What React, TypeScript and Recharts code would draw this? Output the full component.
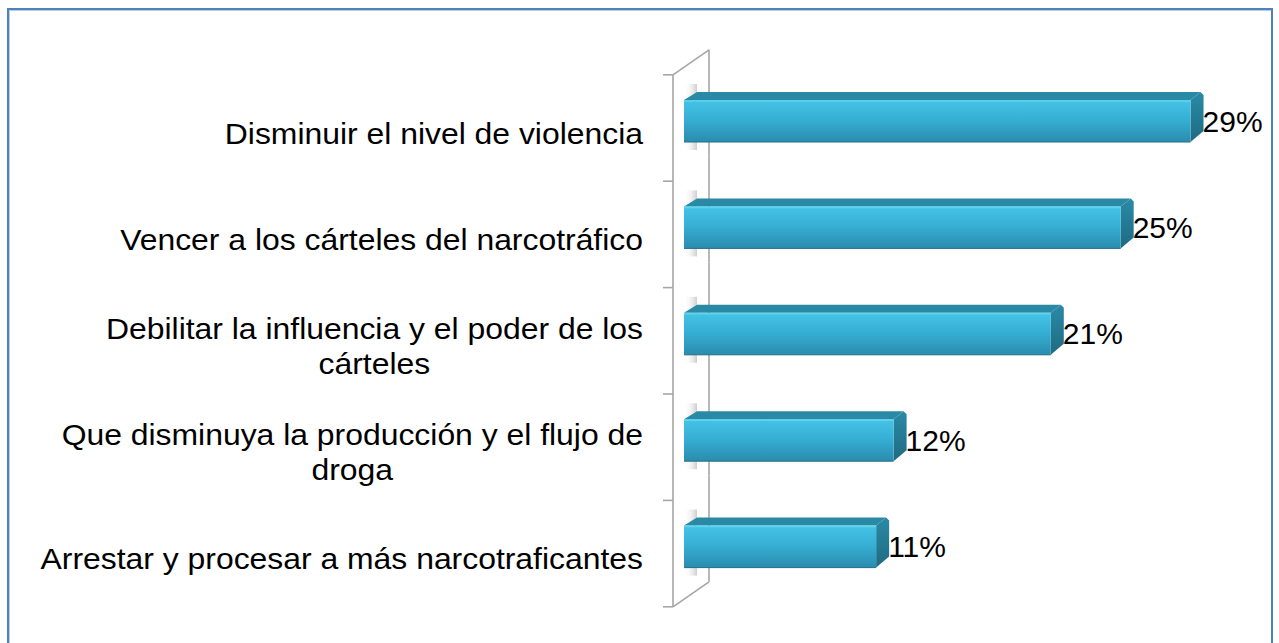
import { BarChart, Bar, XAxis, YAxis, LabelList } from "recharts";

const categories = [
  "Disminuir el nivel de violencia",
  "Vencer a los cárteles del narcotráfico",
  "Debilitar la influencia y el poder de los\ncárteles",
  "Que disminuya la producción y el flujo de\ndroga",
  "Arrestar y procesar a más narcotraficantes",
];
const values = [29, 25, 21, 12, 11];

const data = categories.map((name, i) => ({ name, value: values[i] }));

const FONT = "'Liberation Sans', Arial, sans-serif";
const W = 1279;
const H = 643;
const MARGIN = { top: 68, right: 71, bottom: 43, left: 0 };
const BAND = (H - MARGIN.top - MARGIN.bottom) / categories.length;
const DX = 13; // bar depth
const DY = 8;
const WALL = "#a6a6a6";

let ctx: CanvasRenderingContext2D | null = null;
const textWidth = (s: string, fs: number) => {
  if (!ctx) ctx = document.createElement("canvas").getContext("2d");
  if (!ctx) return s.length * fs * 0.45;
  ctx.font = `${fs}px ${FONT}`;
  return ctx.measureText(s).width;
};

// one segment of the 3D side wall, per category band
const WallSegment = ({ left, top, index, count }: any) => {
  const fx = left - 11;
  const bx = left + 25;
  const fTop = top + 7;
  const fBot = top + BAND + 7;
  const bTop = top - 18;
  const bBot = top + BAND - 18;
  return (
    <g stroke={WALL} strokeWidth={1.6} fill="none">
      <line x1={fx} y1={fTop} x2={fx} y2={fBot} />
      <line x1={bx} y1={bTop} x2={bx} y2={bBot} />
      <line x1={fx - 10} y1={fTop} x2={fx} y2={fTop} />
      {index === 0 && <line x1={fx} y1={fTop} x2={bx} y2={bTop} />}
      {index === count - 1 && (
        <>
          <line x1={fx - 10} y1={fBot} x2={fx} y2={fBot} />
          <line x1={fx} y1={fBot} x2={bx} y2={bBot} />
        </>
      )}
    </g>
  );
};

const Bar3D = (props: any) => {
  const { x, y, width, height, index } = props;
  const r = x + width;
  const bandTop = y + height / 2 - BAND / 2;
  return (
    <g>
      <WallSegment left={x} top={bandTop} index={index} count={categories.length} />
      <rect x={x} y={y - 16} width={DX} height={height + 24} fill="url(#wallShadow)" />
      <polygon
        points={`${x},${y} ${x + DX},${y - DY} ${r + DX - 3},${y - DY} ${r},${y}`}
        fill="#2a8aa5"
      />
      <polygon
        points={`${r},${y} ${r + DX - 3},${y - DY} ${r + DX},${y - DY + 3} ${r + DX},${y + height - DY - 3} ${r},${y + height}`}
        fill="url(#sideGrad)"
      />
      <rect x={x} y={y} width={width} height={height} fill="url(#frontGrad)" />
      <line x1={x} y1={y + 1} x2={r} y2={y + 1} stroke="#5fd2ee" strokeWidth={1.5} />
      <line x1={x} y1={y + height} x2={r} y2={y + height} stroke="#226f88" strokeWidth={1} />
    </g>
  );
};

const CategoryTick = ({ x, y, payload }: any) => {
  const lines = String(payload.value).split("\n");
  const fs = 29;
  const lh = 35;
  const y0 = y + 12 - ((lines.length - 1) * lh) / 2;
  // wrapped lines are centred under the widest line, block right-aligned
  const widths = lines.map((l) => textWidth(l, fs));
  const widest = Math.max(...widths);
  return (
    <g transform={`translate(${x - 41},${y0}) scale(1.1,1)`}>
      {lines.map((l, i) => (
        <text
          key={i}
          x={-(widest - widths[i]) / 2}
          y={i * lh}
          textAnchor="end"
          dominantBaseline="central"
          fontFamily={FONT}
          fontSize={fs}
          fill="#000"
        >
          {l}
        </text>
      ))}
    </g>
  );
};

const ValueLabel = (props: any) => {
  const { x, y, width, height, value } = props;
  return (
    <text
      x={x + width + DX - 1}
      y={y + height / 2}
      dominantBaseline="central"
      fontFamily={FONT}
      fontSize={30}
      fill="#000"
    >
      {value}%
    </text>
  );
};

const App = () => (
  <div style={{ position: "absolute", left: 0, top: 0, width: W, height: H, overflow: "hidden", background: "#fff" }}>
    <div
      style={{
        position: "absolute",
        left: 7,
        top: 8,
        width: 1266,
        height: 700,
        boxSizing: "border-box",
        border: "2px solid #4f81bd",
        boxShadow: "inset 1px 1px 0 #b9cde6",
      }}
    />
    <BarChart
      width={W}
      height={H}
      data={data}
      layout="vertical"
      margin={MARGIN}
      style={{ position: "absolute", left: 0, top: 0 }}
    >
      <defs>
        <linearGradient id="frontGrad" x1="0" y1="0" x2="0" y2="1">
          <stop offset="0%" stopColor="#45c4e6" />
          <stop offset="45%" stopColor="#36b0d5" />
          <stop offset="100%" stopColor="#2a8cae" />
        </linearGradient>
        <linearGradient id="sideGrad" x1="0" y1="0" x2="0" y2="1">
          <stop offset="0%" stopColor="#2a8aa6" />
          <stop offset="100%" stopColor="#1f6a82" />
        </linearGradient>
        <linearGradient id="wallShadow" x1="0" y1="0" x2="1" y2="0">
          <stop offset="0%" stopColor="#ffffff" stopOpacity={0} />
          <stop offset="100%" stopColor="#c8c8c8" stopOpacity={0.9} />
        </linearGradient>
      </defs>
      <XAxis type="number" domain={[0, 30]} hide />
      <YAxis
        type="category"
        dataKey="name"
        width={684}
        axisLine={false}
        tickLine={false}
        tickSize={0}
        tickMargin={0}
        interval={0}
        tick={<CategoryTick />}
      />
      <Bar dataKey="value" barSize={42} shape={<Bar3D />} isAnimationActive={false}>
        <LabelList dataKey="value" content={<ValueLabel />} />
      </Bar>
    </BarChart>
  </div>
);

export default App;
